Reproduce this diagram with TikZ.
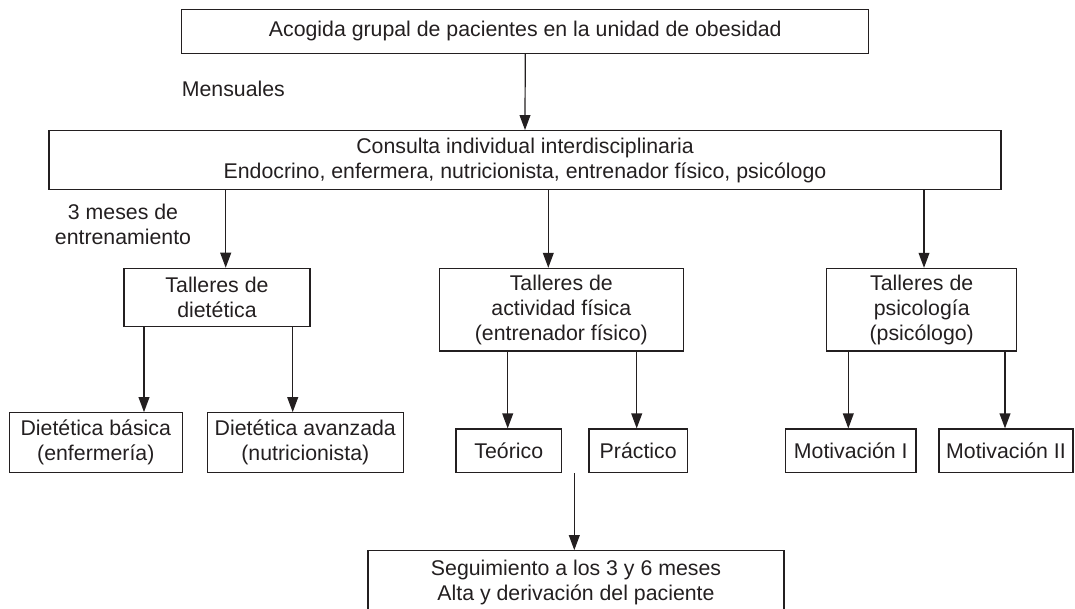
\documentclass[tikz,border=0pt]{standalone}
\usepackage{fontspec}
\setmainfont{Liberation Sans}
\usetikzlibrary{calc}
\definecolor{ink}{RGB}{35,31,32}
\tikzset{
  box/.style={draw=ink, line width=1.2pt, inner sep=0pt, align=center, text=ink,
    font=\fontsize{21.3}{25}\selectfont},
  lbl/.style={inner sep=0pt, align=center, text=ink, font=\fontsize{21.3}{25}\selectfont},
  ln/.style={draw=ink, line width=1.2pt},
  head/.style={fill=ink, draw=none}
}
\newcommand{\vconn}[2]{%
  \draw[ln] (#1) -- ($(#2)+(0,-13)$);
  \fill[head] (#2) -- ++(-5.6,-15) -- ++(11.2,0) -- cycle;}
\begin{document}
\begin{tikzpicture}
\useasboundingbox (0pt,0pt) rectangle (1075pt,-608pt);
\begin{scope}
\clip (0pt,0pt) rectangle (1075pt,-608pt);
\begin{scope}[x=1pt,y=-1pt]
% boxes
\node[box, minimum width=687pt, minimum height=44pt] (top) at (525.3,31.2) {Acogida grupal de pacientes en la unidad de obesidad};
\node[box, minimum width=952pt, minimum height=59pt] (cons) at (525,160.1) {Consulta individual interdisciplinaria\\Endocrino, enfermera, nutricionista, entrenador físico, psicólogo};
\node[box, minimum width=186pt, minimum height=58.4pt] (diet) at (217,297.5) {Talleres de\\dietética};
\node[box, minimum width=244pt, minimum height=82.7pt] (act) at (561.3,309.7) {Talleres de\\actividad física\\(entrenador físico)};
\node[box, minimum width=190pt, minimum height=82.7pt] (psi) at (921.7,309.7) {Talleres de\\psicología\\(psicólogo)};
\node[box, minimum width=173pt, minimum height=59.8pt] (bas) at (95.8,442.6) {Dietética básica\\(enfermería)};
\node[box, minimum width=196pt, minimum height=59.8pt] (avz) at (305.3,442.6) {Dietética avanzada\\(nutricionista)};
\node[box, minimum width=105.7pt, minimum height=43.7pt] (teo) at (508.8,450.8) {Teórico};
\node[box, minimum width=98.3pt, minimum height=43.7pt] (pra) at (638.2,450.8) {Práctico};
\node[box, minimum width=130.3pt, minimum height=43.7pt] (mo1) at (850.8,450.8) {Motivación I};
\node[box, minimum width=134pt, minimum height=43.7pt] (mo2) at (1006,450.8) {Motivación II};
\node[box, minimum width=416pt, minimum height=63.6pt] (seg) at (576,582.5) {Seguimiento a los 3 y 6 meses\\Alta y derivación del paciente};
% labels
\node[lbl, anchor=west] (mens) at (181.7,89) {Mensuales};
\node[lbl] (tres) at (123,224.7) {3 meses de\\entrenamiento};
% connectors
\coordinate (segstart) at (574.3,473);
\coordinate (c1) at (225.7,0);
\coordinate (c2) at (548.3,0);
\coordinate (c3) at (924,0);
\coordinate (d1) at (144,0);
\coordinate (d2) at (292.7,0);
\coordinate (a1) at (507.7,0);
\coordinate (a2) at (636.7,0);
\coordinate (p1) at (848.3,0);
\coordinate (p2) at (1005,0);
\vconn{top.south}{cons.north}
\vconn{cons.south -| c1}{diet.north -| c1}
\vconn{cons.south -| c2}{act.north -| c2}
\vconn{cons.south -| c3}{psi.north -| c3}
\vconn{diet.south -| d1}{bas.north -| d1}
\vconn{diet.south -| d2}{avz.north -| d2}
\vconn{act.south -| a1}{teo.north -| a1}
\vconn{act.south -| a2}{pra.north -| a2}
\vconn{psi.south -| p1}{mo1.north -| p1}
\vconn{psi.south -| p2}{mo2.north -| p2}
\vconn{segstart}{seg.north -| segstart}
\end{scope}
\end{scope}
\end{tikzpicture}
\end{document}
